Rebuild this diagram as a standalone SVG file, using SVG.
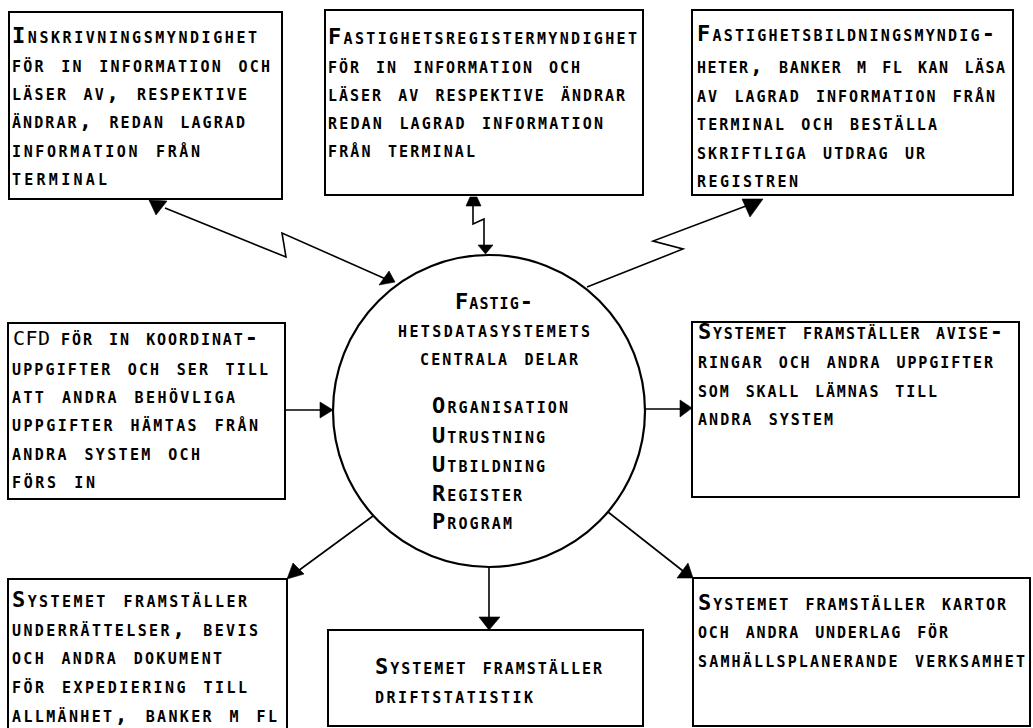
<svg xmlns="http://www.w3.org/2000/svg" width="1033" height="728" viewBox="0 0 1033 728">
<style>
  .box{fill:#fff;stroke:#000;stroke-width:2}
  .hub{fill:#fff;stroke:#000;stroke-width:2.2}
  .t{font-family:"DejaVu Sans Mono","Liberation Mono",monospace;font-size:22px;font-variant:small-caps;font-weight:bold;fill:#000}
  .ac{font-variant:normal;font-weight:normal;font-size:20px}
  .ln{fill:none;stroke:#000;stroke-width:1.6;stroke-linejoin:miter}
  .head{fill:#000;stroke:#000;stroke-width:0.6}
</style>
<rect width="1033" height="728" fill="#fff"/>

<!-- connectors between the central system and the surrounding actors -->
<g id="connectors">
  <!-- inskrivningsmyndighet: two-way terminal link -->
  <path class="ln" d="M165,208 L286,257 L282,233 L388,280"/>
  <polygon class="head" points="149,200 167,201 156,215"/>
  <polygon class="head" points="389,271 379,285 395,282"/>
  <!-- fastighetsregistermyndighet: two-way terminal link -->
  <path class="ln" d="M473,206 L473,224 L484,219 L484,245"/>
  <polygon class="head" points="466,206 481,206 477,197 470,197"/>
  <polygon class="head" points="478,245 493,245 485.5,254"/>
  <!-- fastighetsbildningsmyndigheter: read terminal link -->
  <path class="ln" d="M587,287 L683,249 L653,241 L746,206"/>
  <polygon class="head" points="742,199 763,199 750,217"/>
  <!-- CFD input -->
  <path class="ln" d="M285,410 L322,410"/>
  <polygon class="head" points="320,402 320,418 333,410"/>
  <!-- aviseringar output -->
  <path class="ln" d="M646,409 L681,409"/>
  <polygon class="head" points="680,400 680,417 692,408"/>
  <!-- expediering output -->
  <path class="ln" d="M373,516 L298,571"/>
  <polygon class="head" points="287,579 293,563 304,574"/>
  <!-- driftstatistik output -->
  <path class="ln" d="M489,567 L489,618"/>
  <polygon class="head" points="479,617 500,617 489,630"/>
  <!-- kartor output -->
  <path class="ln" d="M608,512 L683,571"/>
  <polygon class="head" points="677,578 693,578 688,563"/>
</g>

<!-- each text line is stretched to its printed width with textLength -->
<g id="n-inskrivning">
  <rect class="box" x="9" y="12" width="273" height="187"/>
  <text class="t" x="12" y="43" textLength="245" lengthAdjust="spacing">Inskrivningsmyndighet</text>
  <text class="t" x="12" y="72" textLength="258" lengthAdjust="spacing">för in information och</text>
  <text class="t" x="12" y="100" textLength="235" lengthAdjust="spacing">läser av, respektive</text>
  <text class="t" x="12" y="128" textLength="233" lengthAdjust="spacing">ändrar, redan lagrad</text>
  <text class="t" x="12" y="157" textLength="188" lengthAdjust="spacing">information från</text>
  <text class="t" x="12" y="185" textLength="95" lengthAdjust="spacing">terminal</text>
</g>

<g id="n-fastighetsregister">
  <rect class="box" x="325" y="10" width="318" height="185"/>
  <text class="t" x="328" y="44" textLength="309" lengthAdjust="spacing">Fastighetsregistermyndighet</text>
  <text class="t" x="328" y="73" textLength="252" lengthAdjust="spacing">för in information och</text>
  <text class="t" x="328" y="101" textLength="297" lengthAdjust="spacing">läser av respektive ändrar</text>
  <text class="t" x="328" y="129" textLength="275" lengthAdjust="spacing">redan lagrad information</text>
  <text class="t" x="328" y="157" textLength="147" lengthAdjust="spacing">från terminal</text>
</g>

<g id="n-fastighetsbildning">
  <rect class="box" x="692" y="10" width="321" height="185"/>
  <text class="t" x="697" y="41" textLength="298" lengthAdjust="spacing">Fastighetsbildningsmyndig-</text>
  <text class="t" x="697" y="73" textLength="308" lengthAdjust="spacing">heter, banker m fl kan läsa</text>
  <text class="t" x="697" y="102" textLength="298" lengthAdjust="spacing">av lagrad information från</text>
  <text class="t" x="697" y="130" textLength="240" lengthAdjust="spacing">terminal och beställa</text>
  <text class="t" x="697" y="159" textLength="228" lengthAdjust="spacing">skriftliga utdrag ur</text>
  <text class="t" x="697" y="187" textLength="101" lengthAdjust="spacing">registren</text>
</g>

<g id="n-cfd">
  <rect class="box" x="8" y="323" width="277" height="176"/>
  <text class="t ac" x="13" y="345" textLength="37" lengthAdjust="spacing">CFD</text>
  <text class="t" x="61" y="345" textLength="197" lengthAdjust="spacing">för in koordinat-</text>
  <text class="t" x="12" y="375" textLength="256" lengthAdjust="spacing">uppgifter och ser till</text>
  <text class="t" x="12" y="403" textLength="223" lengthAdjust="spacing">att andra behövliga</text>
  <text class="t" x="12" y="431" textLength="246" lengthAdjust="spacing">uppgifter hämtas från</text>
  <text class="t" x="12" y="460" textLength="188" lengthAdjust="spacing">andra system och</text>
  <text class="t" x="12" y="488" textLength="83" lengthAdjust="spacing">förs in</text>
</g>

<g id="n-centralsystem">
  <circle class="hub" cx="489" cy="411" r="156"/>
  <text class="t" x="455" y="309" textLength="78" lengthAdjust="spacing">Fastig-</text>
  <text class="t" x="398" y="337" textLength="192" lengthAdjust="spacing">hetsdatasystemets</text>
  <text class="t" x="420" y="365" textLength="158" lengthAdjust="spacing">centrala delar</text>
  <text class="t" x="432" y="413" textLength="136" lengthAdjust="spacing">Organisation</text>
  <text class="t" x="432" y="443" textLength="113" lengthAdjust="spacing">Utrustning</text>
  <text class="t" x="432" y="472" textLength="113" lengthAdjust="spacing">Utbildning</text>
  <text class="t" x="432" y="501" textLength="90" lengthAdjust="spacing">Register</text>
  <text class="t" x="432" y="529" textLength="80" lengthAdjust="spacing">Program</text>
</g>

<g id="n-aviseringar">
  <rect class="box" x="692" y="322" width="327" height="175"/>
  <text class="t" x="698" y="339" textLength="305" lengthAdjust="spacing">Systemet framställer avise-</text>
  <text class="t" x="698" y="368" textLength="295" lengthAdjust="spacing">ringar och andra uppgifter</text>
  <text class="t" x="698" y="397" textLength="239" lengthAdjust="spacing">som skall lämnas till</text>
  <text class="t" x="698" y="425" textLength="135" lengthAdjust="spacing">andra system</text>
</g>

<g id="n-expediering">
  <rect class="box" x="8" y="579" width="279" height="170"/>
  <text class="t" x="12" y="607" textLength="235" lengthAdjust="spacing">Systemet framställer</text>
  <text class="t" x="12" y="636" textLength="246" lengthAdjust="spacing">underrättelser, bevis</text>
  <text class="t" x="12" y="664" textLength="210" lengthAdjust="spacing">och andra dokument</text>
  <text class="t" x="12" y="693" textLength="235" lengthAdjust="spacing">för expediering till</text>
  <text class="t" x="12" y="722" textLength="265" lengthAdjust="spacing">allmänhet, banker m fl</text>
</g>

<g id="n-driftstatistik">
  <rect class="box" x="328" y="630" width="315" height="96"/>
  <text class="t" x="375" y="674" textLength="227" lengthAdjust="spacing">Systemet framställer</text>
  <text class="t" x="375" y="703" textLength="158" lengthAdjust="spacing">driftstatistik</text>
</g>

<g id="n-kartor">
  <rect class="box" x="693" y="578" width="337" height="148"/>
  <text class="t" x="698" y="610" textLength="308" lengthAdjust="spacing">Systemet framställer kartor</text>
  <text class="t" x="698" y="638" textLength="250" lengthAdjust="spacing">och andra underlag för</text>
  <text class="t" x="698" y="667" textLength="327" lengthAdjust="spacing">samhällsplanerande verksamhet</text>
</g>
</svg>
